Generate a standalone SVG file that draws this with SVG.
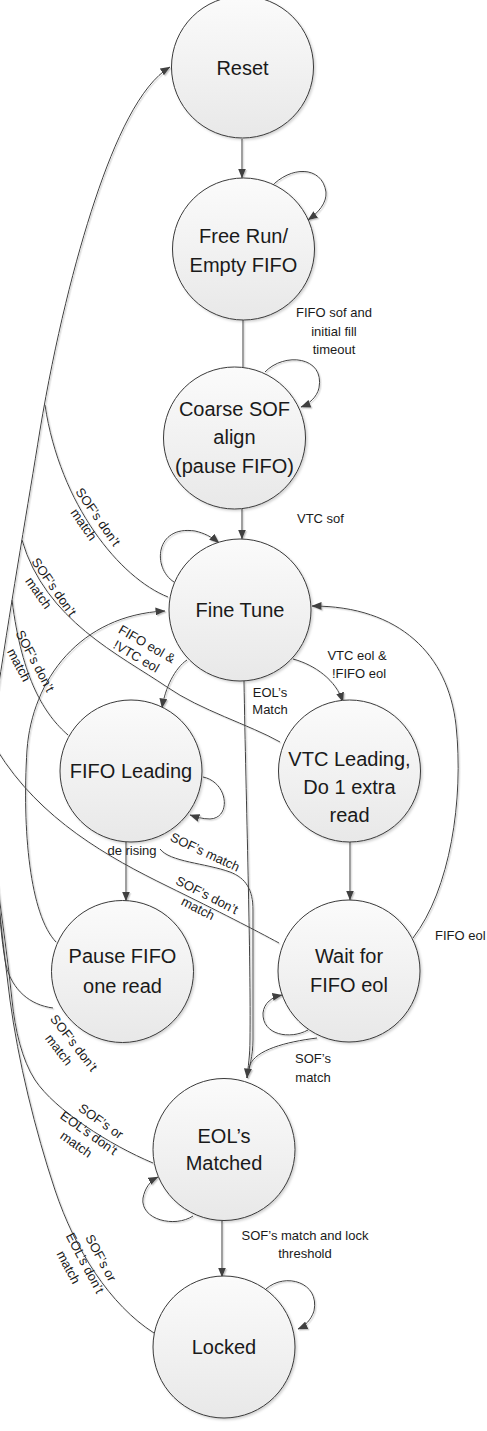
<svg xmlns="http://www.w3.org/2000/svg" width="487" height="1431" viewBox="0 0 487 1431">
<style>
.node circle{fill:url(#g);stroke:#3a3a3a;stroke-width:1;filter:url(#ns)}
.node text{font-family:"Liberation Sans",Arial,sans-serif;font-size:20px;fill:#1a1a1a;text-anchor:middle}
.lbl{font-family:"Liberation Sans",Arial,sans-serif;font-size:13px;fill:#1a1a1a;text-anchor:middle}
.c path{fill:none;stroke:#3f3f3f;stroke-width:1}
.c path.a{marker-end:url(#ar)}
</style>
<defs>
<linearGradient id="g" x1="0" y1="0" x2="0" y2="1">
<stop offset="0" stop-color="#fbfbfb"/><stop offset="1" stop-color="#e8e8e8"/>
</linearGradient>
<filter id="ns" x="-10%" y="-10%" width="125%" height="125%">
<feDropShadow dx="1.5" dy="1.5" stdDeviation="1" flood-color="#000" flood-opacity="0.18"/>
</filter>
<filter id="ls" x="-5%" y="-5%" width="110%" height="110%">
<feDropShadow dx="1.3" dy="1.3" stdDeviation="0.2" flood-color="#bdbdbd" flood-opacity="0.8"/>
</filter>
<marker id="ar" markerWidth="10" markerHeight="8" refX="9.5" refY="4" orient="auto" markerUnits="userSpaceOnUse">
<path d="M0,0 L10,4 L0,8 Z" fill="#3f3f3f"/>
</marker>
</defs>
<rect width="487" height="1431" fill="#ffffff"/>

<g id="connectors" class="c" filter="url(#ls)">
<path class="a" d="M 242 139 L 242 178"/>
<path class="a" d="M 271 187 C 290 166, 322 165, 326 192 C 327 203, 318 213, 308 220"/>
<path d="M 243 320 L 243 367"/>
<path class="a" d="M 265 372 C 284 352, 325 356, 319 388 C 317 397, 309 404, 301 407"/>
<path class="a" d="M 242 509 L 242 539"/>
<path class="a" d="M 174 582 C 152 568, 155 525, 195 531 C 204 533, 212 537, 219 543"/>
<path class="a" d="M 187 660 C 175 668, 165 688, 162 708"/>
<path class="a" d="M 293 659 C 315 665, 336 680, 343 702"/>
<path class="a" d="M 244 681 C 246 800, 251 960, 250 1040 C 250 1055, 248 1068, 247 1078"/>
<path d="M 160 849 C 170 862, 205 863, 230 872 C 246 878, 253 890, 253 910 L 253 1040 C 253 1056, 249 1068, 247 1078"/>
<path class="a" d="M 203 777 C 228 782, 232 818, 210 819 C 203 819, 196 817, 190 815"/>
<path class="a" d="M 126 842 L 126 901"/>
<path class="a" d="M 350 842 L 350 900"/>
<path class="a" d="M 413 938 C 450 890, 464 800, 456 725 C 448 655, 400 606, 312 606"/>
<path class="a" d="M 308 1030 C 290 1040, 262 1035, 263 1013 C 264 1003, 272 997, 282 995"/>
<path d="M 317 1038 C 285 1042, 256 1050, 250 1065 L 247 1078"/>
<path class="a" d="M 193 1216 C 175 1228, 140 1220, 143 1198 C 145 1188, 150 1181, 158 1177"/>
<path class="a" d="M 222 1221 L 222 1277"/>
<path class="a" d="M 266 1289 C 285 1272, 320 1282, 314 1311 C 311 1320, 305 1326, 298 1329"/>
<path class="a" d="M -2 690 C 13 590, 28 505, 40 430 C 55 340, 75 260, 95 200 C 115 140, 140 85, 170 67"/>
<path d="M 168 597 C 120 578, 60 505, 45 405"/>
<path d="M 280 742 C 250 725, 200 710, 167 687 C 120 655, 45 620, 22 540"/>
<path d="M 68 735 C 45 715, 22 680, 12 600"/>
<path d="M 279 943 C 255 930, 220 912, 167 886 C 110 858, 40 820, -3 750"/>
<path class="a" d="M 56 942 C 30 915, 22 830, 27 750 C 32 680, 80 615, 165 611"/>
<path d="M 53 1008 C 30 1005, 12 990, 6 965 C 2 945, 0 920, -3 880"/>
<path d="M 153 1163 C 110 1145, 55 1110, 35 1080 C 22 1060, 15 1030, 12 1000 C 8 960, 2 920, -3 880"/>
<path d="M 154 1333 C 110 1305, 75 1250, 55 1190 C 35 1130, 18 1060, 10 1000 C 5 960, 0 920, -3 880"/>
</g>

<g id="n-reset" class="node"><circle cx="242.5" cy="67" r="71"/><text x="242.5" y="75">Reset</text></g>
<g id="n-freerun" class="node"><circle cx="243.5" cy="249" r="71"/><text x="243.5" y="243">Free Run/</text><text x="243.5" y="272">Empty FIFO</text></g>
<g id="n-coarse" class="node"><circle cx="234.5" cy="438" r="71"/><text x="234.5" y="416">Coarse SOF</text><text x="234.5" y="444">align</text><text x="234.5" y="473">(pause FIFO)</text></g>
<g id="n-finetune" class="node"><circle cx="240" cy="610" r="71"/><text x="240" y="617">Fine Tune</text></g>
<g id="n-fifolead" class="node"><circle cx="131" cy="771" r="71"/><text x="131" y="778">FIFO Leading</text></g>
<g id="n-vtclead" class="node"><circle cx="349.5" cy="771" r="71"/><text x="349.5" y="766">VTC Leading,</text><text x="349.5" y="794">Do 1 extra</text><text x="349.5" y="822">read</text></g>
<g id="n-pause" class="node"><circle cx="122.5" cy="971.5" r="71"/><text x="122.5" y="963">Pause FIFO</text><text x="122.5" y="993">one read</text></g>
<g id="n-wait" class="node"><circle cx="349" cy="971" r="71"/><text x="349" y="963">Wait for</text><text x="349" y="992">FIFO eol</text></g>
<g id="n-eolmatched" class="node"><circle cx="224" cy="1149.5" r="71"/><text x="224" y="1143">EOL’s</text><text x="224" y="1170">Matched</text></g>
<g id="n-locked" class="node"><circle cx="224" cy="1347" r="71"/><text x="224" y="1354">Locked</text></g>

<g id="labels">
<text class="lbl" x="334" y="317">FIFO sof and</text>
<text class="lbl" x="334" y="336">initial fill</text>
<text class="lbl" x="334" y="354">timeout</text>
<text class="lbl" x="297" y="523" style="text-anchor:start">VTC sof</text>
<text class="lbl" x="357" y="660">VTC eol  &amp;</text>
<text class="lbl" x="359" y="678">!FIFO eol</text>
<text class="lbl" x="270" y="697">EOL’s</text>
<text class="lbl" x="270" y="714">Match</text>
<text class="lbl" x="132" y="855">de rising</text>
<text class="lbl" x="435" y="940" style="text-anchor:start">FIFO eol</text>
<text class="lbl" x="313" y="1063">SOF’s</text>
<text class="lbl" x="313" y="1082">match</text>
<text class="lbl" x="305" y="1240">SOF’s match and lock</text>
<text class="lbl" x="305" y="1258">threshold</text>
<g transform="translate(147,644) rotate(30)"><text class="lbl" x="0" y="4.5">FIFO eol &amp;</text><text class="lbl" x="-3" y="20.5">!VTC eol</text></g>
<g transform="translate(205,852) rotate(25)"><text class="lbl" x="0" y="4.5">SOF’s match</text></g>
<g transform="translate(98,517) rotate(55)"><text class="lbl" x="0" y="4.5">SOF’s don’t</text><text class="lbl" x="-2" y="20.5">match</text></g>
<g transform="translate(54,587) rotate(55)"><text class="lbl" x="0" y="4.5">SOF’s don’t</text><text class="lbl" x="-4" y="20.5">match</text></g>
<g transform="translate(35,661) rotate(62)"><text class="lbl" x="0" y="4.5">SOF’s don’t</text><text class="lbl" x="-4" y="20.5">match</text></g>
<g transform="translate(207,895) rotate(27)"><text class="lbl" x="0" y="4.5">SOF’s don’t</text><text class="lbl" x="-2" y="20.5">match</text></g>
<g transform="translate(74,1043) rotate(52)"><text class="lbl" x="0" y="4.5">SOF’s don’t</text><text class="lbl" x="-4" y="20.5">match</text></g>
<g transform="translate(89,1133) rotate(35)"><text class="lbl" x="3" y="-12">SOF’s or</text><text class="lbl" x="0" y="4.5">EOL’s don’t</text><text class="lbl" x="-4" y="21">match</text></g>
<g transform="translate(85,1263) rotate(62)"><text class="lbl" x="3" y="-12">SOF’s or</text><text class="lbl" x="0" y="4.5">EOL’s don’t</text><text class="lbl" x="-4" y="21">match</text></g>
</g>
</svg>
